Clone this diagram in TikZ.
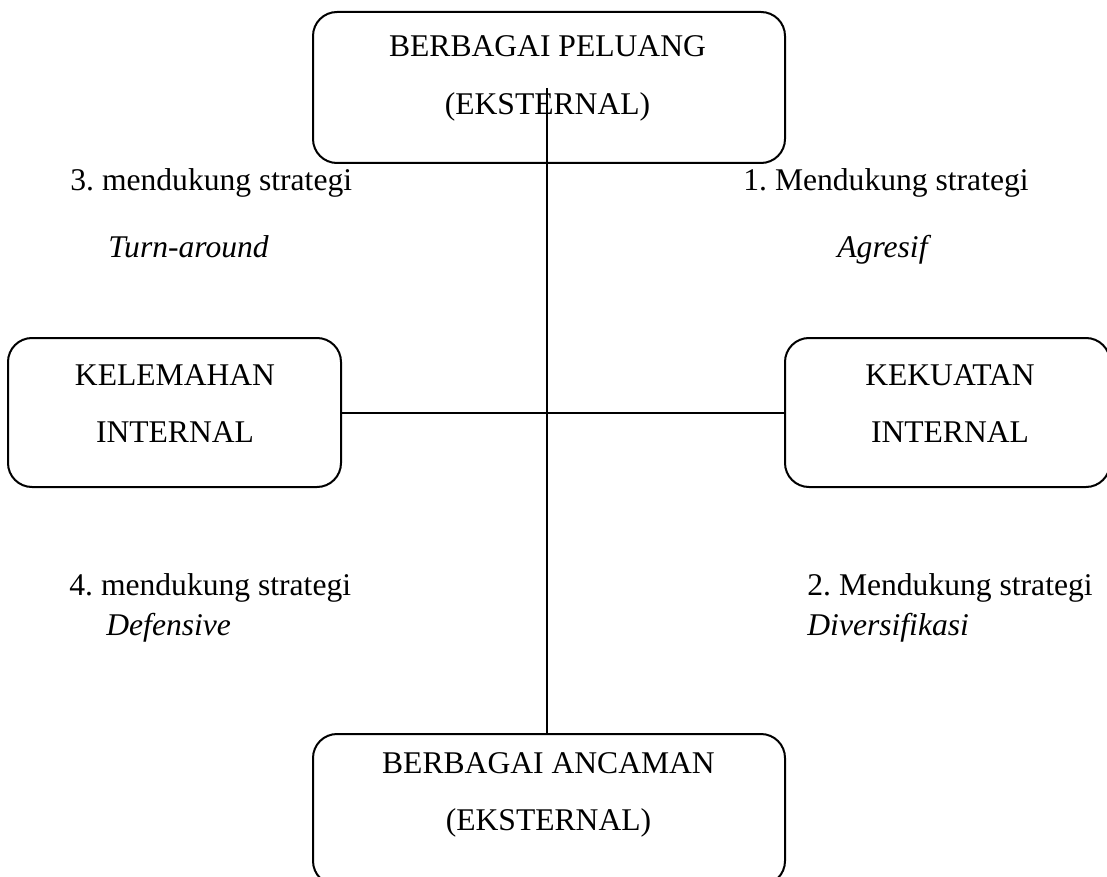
\documentclass[tikz,border=0pt]{standalone}
\usepackage{fontspec}
\setmainfont{Liberation Serif}
\usepackage{tikz}
\frenchspacing

\begin{document}
\begin{tikzpicture}[x=0.5pt,y=-0.5pt,
    kotak/.style={draw,line width=1pt,rounded corners=12pt,inner sep=0pt},
    garis/.style={line width=1pt},
    judul/.style={anchor=base,inner sep=0pt,font=\fontsize{15.8}{19}\selectfont},
    ket/.style={anchor=base west,inner sep=0pt,font=\fontsize{15.8}{19}\selectfont}]
    \useasboundingbox (0,0) rectangle (1107,877);
    \clip (0,0) rectangle (1107,877);

    % kotak-kotak
    \node[kotak,minimum width=236pt,minimum height=75.5pt] (peluang) at (549,87.5) {};
    \node[kotak,minimum width=166.5pt,minimum height=74.5pt] (kelemahan) at (174.5,412.5) {};
    \node[kotak,minimum width=162.5pt,minimum height=74.5pt] (kekuatan) at (947.5,412.5) {};
    \node[kotak,minimum width=236pt,minimum height=75.5pt] (ancaman) at (549,809.5) {};

    % isi kotak
    \node[judul] (peluang1) at (547.5,57) {BERBAGAI PELUANG};
    \node[judul] (peluang2) at (547.5,115) {(EKSTERNAL)};
    \node[judul] (kelemahan1) at (175,385) {KELEMAHAN};
    \node[judul] (kelemahan2) at (175,442) {INTERNAL};
    \node[judul] (kekuatan1) at (950,385) {KEKUATAN};
    \node[judul] (kekuatan2) at (950,442) {INTERNAL};
    \node[judul] (ancaman1) at (548.5,773) {BERBAGAI ANCAMAN};
    \node[judul] (ancaman2) at (548.5,830) {(EKSTERNAL)};

    % garis sumbu
    \coordinate (atas) at (547,88);
    \draw[garis] (atas) -- (atas |- ancaman.north);
    \draw[garis] (kelemahan.east) -- (kekuatan.west);

    % strategi
    \node[ket] (s3) at (70,191) {3. mendukung strategi};
    \node[ket] (s3b) at (108,257) {\textit{Turn-around}};
    \node[ket] (s1) at (743,191) {1. Mendukung strategi};
    \node[ket] (s1b) at (837,257) {\textit{Agresif}};
    \node[ket] (s4) at (69,595) {4. mendukung strategi};
    \node[ket] (s4b) at (106,635) {\textit{Defensive}};
    \node[ket] (s2) at (807,595) {2. Mendukung strategi};
    \node[ket] (s2b) at (807,635) {\textit{Diversifikasi}};
\end{tikzpicture}
\end{document}
